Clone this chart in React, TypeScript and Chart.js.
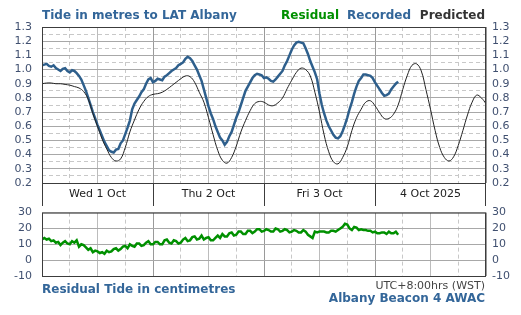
import React, { useEffect, useRef } from "react";
import { Chart, registerables } from "chart.js";
Chart.register(...registerables);

// Times are hours from Wed 1 Oct 00:00 (WST)
const DAY_LABELS = ["Wed 1 Oct", "Thu 2 Oct", "Fri 3 Oct", "4 Oct 2025"];
const X_MAX_HOURS = 96;

// Predicted tide (m), one value per hour
const PREDICTED_STEP_H = 1;
const PREDICTED = [
  0.9, 0.905, 0.905, 0.9, 0.9, 0.895, 0.89, 0.88, 0.87, 0.845, 0.79, 0.69,
  0.6, 0.51, 0.44, 0.38, 0.355, 0.37, 0.45, 0.56, 0.645, 0.72, 0.775, 0.81,
  0.825, 0.83, 0.84, 0.86, 0.885, 0.91, 0.935, 0.955, 0.95, 0.91, 0.84, 0.77,
  0.66, 0.54, 0.43, 0.36, 0.34, 0.38, 0.46, 0.56, 0.64, 0.71, 0.76, 0.775,
  0.77, 0.75, 0.745, 0.765, 0.8, 0.865, 0.925, 0.98, 1.01, 1.0, 0.955, 0.84,
  0.7, 0.54, 0.42, 0.35, 0.335, 0.38, 0.455, 0.57, 0.66, 0.72, 0.77, 0.78,
  0.745, 0.695, 0.655, 0.655, 0.685, 0.75, 0.86, 0.96, 1.03, 1.04, 0.99, 0.86,
  0.72, 0.57, 0.45, 0.38, 0.355, 0.385, 0.465, 0.57, 0.68, 0.77, 0.82, 0.8, 0.76,
];

// Recorded tide (m), one value per half hour
const RECORDED_STEP_H = 0.5;
const RECORDED = [
  1.03, 1.035, 1.04, 1.025, 1.02, 1.03, 1.01, 1.0, 0.99, 1.005, 1.01, 0.99,
  0.98, 0.995, 0.99, 0.975, 0.955, 0.93, 0.89, 0.85, 0.8, 0.75, 0.7, 0.655,
  0.61, 0.57, 0.53, 0.49, 0.46, 0.43, 0.42, 0.415, 0.435, 0.44, 0.48, 0.5,
  0.545, 0.59, 0.64, 0.72, 0.76, 0.785, 0.81, 0.84, 0.86, 0.9, 0.93, 0.94,
  0.91, 0.92, 0.935, 0.93, 0.925, 0.95, 0.96, 0.975, 0.99, 1.0, 1.01, 1.03,
  1.04, 1.05, 1.075, 1.09, 1.08, 1.06, 1.03, 1.0, 0.96, 0.92, 0.86, 0.8,
  0.74, 0.69, 0.65, 0.6, 0.56, 0.52, 0.5, 0.47, 0.49, 0.53, 0.56, 0.61,
  0.66, 0.7, 0.75, 0.8, 0.85, 0.88, 0.91, 0.94, 0.96, 0.97, 0.965, 0.96,
  0.94, 0.945, 0.935, 0.92, 0.915, 0.93, 0.95, 0.97, 0.99, 1.03, 1.06, 1.1,
  1.14, 1.17, 1.19, 1.195, 1.19, 1.185, 1.15, 1.11, 1.06, 1.02, 0.98, 0.93,
  0.83, 0.75, 0.69, 0.64, 0.6, 0.57, 0.54, 0.52, 0.515, 0.53, 0.565, 0.61,
  0.66, 0.72, 0.77, 0.83, 0.88, 0.92, 0.94, 0.965, 0.965, 0.96, 0.955, 0.94,
  0.91, 0.885, 0.86, 0.835, 0.815, 0.82, 0.83, 0.86, 0.88, 0.9, 0.915,
];

// Residual (cm), one value per half hour
const RESIDUAL_STEP_H = 0.5;
const RESIDUAL_CM = [
  13, 14, 13, 13.5, 12, 12.5, 11, 11.5, 9.5, 11, 12, 10.5,
  10, 12, 11, 12.5, 8.5, 10, 9.5, 8, 6.5, 7.5, 5, 6,
  5.5, 4.5, 5, 4, 6, 5, 5.5, 7, 7.5, 6, 7, 8.5,
  9, 7.5, 10, 9, 8.5, 10.5, 10.5, 9, 9.5, 11, 12, 10,
  10, 11.5, 11.5, 10, 10, 12.5, 13, 11, 10.5, 12.5, 12, 10.5,
  11, 13, 14, 12, 12.5, 14.5, 15, 13, 13.5, 15.5, 13, 14,
  14.5, 12.5, 12.5, 14, 15.5, 14, 16.5, 15, 15, 17, 17.5, 15.5,
  16, 18, 18, 16.5, 16.5, 18.5, 18.5, 17, 18, 19.5, 19.5, 18,
  18.5, 19.5, 19, 18, 18, 20, 19.5, 18, 18.5, 19.5, 19, 17.5,
  18, 19, 18.5, 17.5, 17.5, 19, 18, 16, 15, 14, 18, 17.5,
  18, 18, 18, 17.5, 17.5, 18.5, 18.5, 18, 19, 20, 21, 23,
  22.5, 20, 19, 21, 20.5, 19, 19.5, 19, 19, 18.5, 18.5, 17.5,
  18, 17, 17, 17.5, 17.5, 16.5, 18, 17, 17, 18, 16,
];

const TIDE_MIN = 0.2;
const TIDE_MAX = 1.3;
const RES_MIN = -10;
const RES_MAX = 30;

const FONT = '"DejaVu Sans", Verdana, sans-serif';
const TICK_COLOR = "#405070";
const BLUE = "#2e5f8c";
const TITLE_BLUE = "#336699";
const GREEN = "#009000";

const xGridColor = (ctx: any) => {
  const v = Math.round(ctx.tick ? ctx.tick.value : 0);
  if (v % 24 === 0) return "#9a9a9a";
  if (v % 12 === 0) return "#bcbcbc";
  return "#c8c8c8";
};
const xGridDash = (ctx: any) => {
  const v = Math.round(ctx.tick ? ctx.tick.value : 0);
  return v % 12 === 0 ? [] : [4, 3];
};

function xScale(height: number) {
  return {
    type: "linear",
    min: 0,
    max: X_MAX_HOURS,
    ticks: { stepSize: 6, display: false },
    grid: { color: xGridColor, lineWidth: 1, drawTicks: false },
    border: { display: false, dash: xGridDash },
    afterFit: (s: any) => {
      s.height = height;
    },
  };
}

function yScale(
  pos: "left" | "right",
  min: number,
  max: number,
  step: number,
  fmt: (v: number) => string,
  grid: any
) {
  return {
    type: "linear",
    position: pos,
    min,
    max,
    ticks: {
      stepSize: step,
      autoSkip: false,
      color: TICK_COLOR,
      font: { family: FONT, size: 11 },
      padding: pos === "left" ? 10 : 6,
      callback: (v: any) => fmt(Number(v)),
    },
    grid,
    border: { display: false },
    afterFit: (s: any) => {
      s.width = pos === "left" ? 42 : 35;
    },
  };
}

const tideLabel = (v: number) => {
  const c = Math.round(v * 100);
  return c % 10 === 0 ? (c / 100).toFixed(1) : "";
};

const toPoints = (vals: number[], step: number) =>
  vals.map((v, i) => ({ x: i * step, y: v }));

const topDecor = {
  id: "topDecor",
  afterDraw(chart: any) {
    const { ctx, chartArea: a, scales } = chart;
    const x = scales.x;
    const H = chart.height;
    ctx.save();
    ctx.strokeStyle = "#3c3c3c";
    ctx.lineWidth = 1;
    ctx.strokeRect(a.left + 0.5, a.top + 0.5, a.right - a.left - 1, a.bottom - a.top);
    ctx.beginPath();
    for (let h = 0; h <= X_MAX_HOURS; h += 24) {
      const px = Math.round(x.getPixelForValue(h)) + (h === X_MAX_HOURS ? -0.5 : 0.5);
      ctx.moveTo(px, a.bottom);
      ctx.lineTo(px, H);
    }
    ctx.stroke();
    ctx.fillStyle = "#222";
    ctx.font = `11px ${FONT}`;
    ctx.textAlign = "center";
    ctx.textBaseline = "middle";
    DAY_LABELS.forEach((lab, i) => {
      ctx.fillText(lab, x.getPixelForValue(12 + 24 * i), a.bottom + 11.5);
    });
    ctx.font = `bold 12px ${FONT}`;
    ctx.textAlign = "left";
    ctx.fillStyle = TITLE_BLUE;
    ctx.fillText("Tide in metres to LAT Albany", a.left, 16);
    ctx.textAlign = "right";
    ctx.fillStyle = "#333";
    ctx.fillText("Predicted", 485, 16);
    ctx.fillStyle = TITLE_BLUE;
    ctx.fillText("Recorded", 411, 16);
    ctx.fillStyle = GREEN;
    ctx.fillText("Residual", 339, 16);
    ctx.restore();
  },
};

const bottomDecor = {
  id: "bottomDecor",
  afterDraw(chart: any) {
    const { ctx, chartArea: a } = chart;
    ctx.save();
    ctx.strokeStyle = "#3c3c3c";
    ctx.lineWidth = 1;
    ctx.strokeRect(a.left + 0.5, a.top + 0.5, a.right - a.left - 1, a.bottom - a.top);
    ctx.textBaseline = "middle";
    ctx.font = `bold 12px ${FONT}`;
    ctx.fillStyle = TITLE_BLUE;
    ctx.textAlign = "left";
    ctx.fillText("Residual Tide in centimetres", a.left, 94);
    ctx.textAlign = "right";
    ctx.fillText("Albany Beacon 4 AWAC", 485, 103);
    ctx.font = `11px ${FONT}`;
    ctx.fillStyle = "#444";
    ctx.fillText("UTC+8:00hrs (WST)", 485, 90);
    ctx.restore();
  },
};

export default function App() {
  const topRef = useRef<HTMLCanvasElement>(null);
  const botRef = useRef<HTMLCanvasElement>(null);

  useEffect(() => {
    const hGridTide = {
      color: (ctx: any) => {
        const c = Math.round((ctx.tick ? ctx.tick.value : 0) * 100);
        return c % 10 === 0 ? "#a8a8a8" : "#c8c8c8";
      },
      drawTicks: false,
    };
    const tideDash = (ctx: any) => {
      const c = Math.round((ctx.tick ? ctx.tick.value : 0) * 100);
      return c % 10 === 0 ? [] : [4, 3];
    };

    const yLeft: any = yScale("left", TIDE_MIN, TIDE_MAX, 0.05, tideLabel, hGridTide);
    yLeft.border = { display: false, dash: tideDash };
    const yRight: any = yScale("right", TIDE_MIN, TIDE_MAX, 0.05, tideLabel, {
      drawOnChartArea: false,
      drawTicks: false,
    });

    const top = new Chart(topRef.current as HTMLCanvasElement, {
      type: "line",
      data: {
        datasets: [
          {
            label: "Predicted",
            data: toPoints(PREDICTED, PREDICTED_STEP_H),
            borderColor: "#222",
            borderWidth: 1,
            pointRadius: 0,
            tension: 0.4,
            yAxisID: "y",
          },
          {
            label: "Recorded",
            data: toPoints(RECORDED, RECORDED_STEP_H),
            borderColor: BLUE,
            borderWidth: 2.5,
            pointRadius: 0,
            tension: 0,
            yAxisID: "y",
          },
        ],
      },
      options: {
        responsive: false,
        animation: false,
        devicePixelRatio: 1,
        layout: { padding: { top: 27, left: 0, right: 0, bottom: 0 } },
        plugins: { legend: { display: false }, tooltip: { enabled: false } },
        scales: { x: xScale(23) as any, y: yLeft, y2: yRight },
      },
      plugins: [topDecor],
    } as any);

    const resLabel = (v: number) => String(Math.round(v));
    const bLeft: any = yScale("left", RES_MIN, RES_MAX, 10, resLabel, {
      color: "#a8a8a8",
      drawTicks: false,
    });
    const bRight: any = yScale("right", RES_MIN, RES_MAX, 10, resLabel, {
      drawOnChartArea: false,
      drawTicks: false,
    });

    const bottom = new Chart(botRef.current as HTMLCanvasElement, {
      type: "line",
      data: {
        datasets: [
          {
            label: "Residual",
            data: toPoints(RESIDUAL_CM, RESIDUAL_STEP_H),
            borderColor: GREEN,
            borderWidth: 2.5,
            pointRadius: 0,
            tension: 0,
            yAxisID: "y",
          },
        ],
      },
      options: {
        responsive: false,
        animation: false,
        devicePixelRatio: 1,
        layout: { padding: { top: 10, left: 0, right: 0, bottom: 0 } },
        plugins: { legend: { display: false }, tooltip: { enabled: false } },
        scales: { x: xScale(39) as any, y: bLeft, y2: bRight },
      },
      plugins: [bottomDecor],
    } as any);

    return () => {
      top.destroy();
      bottom.destroy();
    };
  }, []);

  return (
    <div
      style={{
        position: "fixed",
        left: 0,
        top: 0,
        width: 521,
        height: 315,
        background: "#fff",
        overflow: "hidden",
      }}
    >
      <canvas
        ref={topRef}
        width={521}
        height={206}
        style={{ position: "absolute", left: 0, top: 0, width: 521, height: 206 }}
      />
      <canvas
        ref={botRef}
        width={521}
        height={119}
        style={{ position: "absolute", left: 0, top: 196, width: 521, height: 119 }}
      />
    </div>
  );
}
